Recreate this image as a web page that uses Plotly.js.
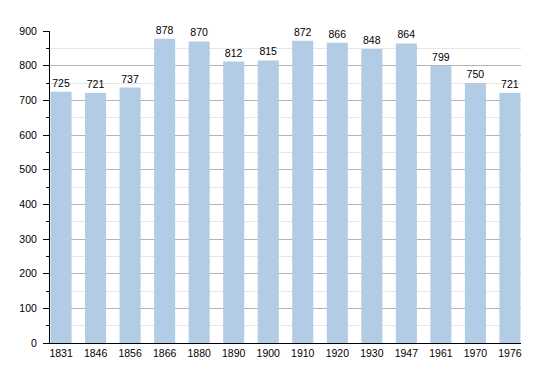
<!DOCTYPE html>
<html>
<head>
<meta charset="utf-8">
<script src="https://cdn.plot.ly/plotly-3.0.1.min.js"></script>
<style>html,body{margin:0;padding:0;background:#fff;}#chart{width:550px;height:373px;}</style>
</head>
<body>
<div id="chart"></div>
<script>
const years = ["1831","1846","1856","1866","1880","1890","1900","1910","1920","1930","1947","1961","1970","1976"];
const population = [725, 721, 737, 878, 870, 812, 815, 872, 866, 848, 864, 799, 750, 721];
const yTicks = [0, 100, 200, 300, 400, 500, 600, 700, 800, 900];

const trace = {
  type: 'bar',
  x: years,
  y: population,
  text: population.map(String),
  textposition: 'outside',
  cliponaxis: false,
  textfont: {family: 'Liberation Sans, Arial, sans-serif', size: 10.5, color: '#000'},
  marker: {color: 'rgb(178,204,230)', line: {width: 0}},
  hoverinfo: 'none'
};

const layout = {
  width: 550, height: 373,
  margin: {l: 50, r: 29, t: 31, b: 30},
  paper_bgcolor: '#fff', plot_bgcolor: '#fff',
  showlegend: false,
  bargap: 0.39,
  font: {family: 'Liberation Sans, Arial, sans-serif', size: 10.5, color: '#000'},
  xaxis: {
    type: 'category',
    range: [-0.32, 13.32],
    showline: true, linecolor: '#000', linewidth: 1,
    ticks: '', showgrid: false, zeroline: false,
    tickfont: {size: 10.5, color: '#000'}
  },
  yaxis: {
    range: [0, 900],
    tickvals: yTicks,
    showline: true, linecolor: '#000', linewidth: 1,
    ticks: 'outside', ticklen: 6, tickcolor: '#000',
    ticklabelstandoff: 4,
    showgrid: true, gridcolor: '#b4b4b4', gridwidth: 1,
    zeroline: false,
    tickfont: {size: 10.5, color: '#000'},
    minor: {dtick: 50, showgrid: true, gridcolor: '#e6e6e6', ticks: 'outside', ticklen: 3, tickcolor: '#000'}
  }
};

Plotly.newPlot('chart', [trace], layout, {displayModeBar: false, staticPlot: true});
</script>
</body>
</html>
